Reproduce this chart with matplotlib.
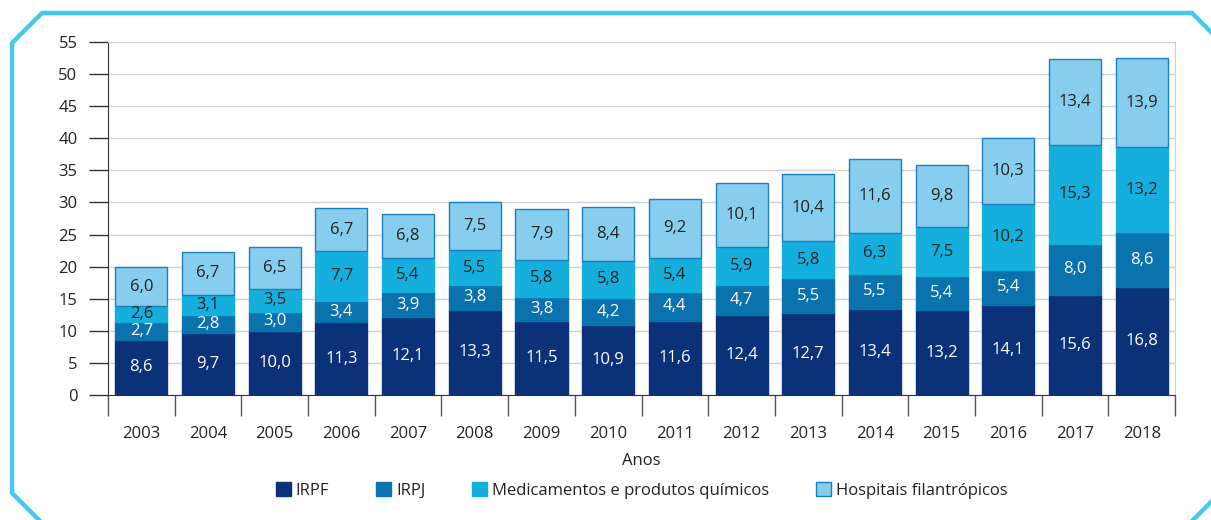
import matplotlib.pyplot as plt
import numpy as np
from matplotlib.lines import Line2D

plt.rcParams['font.family'] = ['Open Sans', 'DejaVu Sans']

anos = ['2003', '2004', '2005', '2006', '2007', '2008', '2009', '2010',
        '2011', '2012', '2013', '2014', '2015', '2016', '2017', '2018']
irpf = [8.6, 9.7, 10.0, 11.3, 12.1, 13.3, 11.5, 10.9, 11.6, 12.4, 12.7, 13.4, 13.2, 14.1, 15.6, 16.8]
irpj = [2.7, 2.8, 3.0, 3.4, 3.9, 3.8, 3.8, 4.2, 4.4, 4.7, 5.5, 5.5, 5.4, 5.4, 8.0, 8.6]
medicamentos = [2.6, 3.1, 3.5, 7.7, 5.4, 5.5, 5.8, 5.8, 5.4, 5.9, 5.8, 6.3, 7.5, 10.2, 15.3, 13.2]
hospitais = [6.0, 6.7, 6.5, 6.7, 6.8, 7.5, 7.9, 8.4, 9.2, 10.1, 10.4, 11.6, 9.8, 10.3, 13.4, 13.9]

series = [
    ('IRPF', irpf, '#0b3279', 'white'),
    ('IRPJ', irpj, '#0a72ad', 'white'),
    ('Medicamentos e produtos químicos', medicamentos, '#14afdc', '#222222'),
    ('Hospitais filantrópicos', hospitais, '#86cdee', '#222222'),
]

fig = plt.figure(figsize=(12.11, 5.20), dpi=100)
ax = fig.add_axes([0.0892, 0.2404, 0.8811, 0.6788])

x = np.arange(len(anos))
bottom = np.zeros(len(anos))
for name, vals, color, tcolor in series:
    vals = np.array(vals)
    edge = '#1b7fc0' if name.startswith('Hosp') else color
    ax.bar(x, vals, 0.78, bottom=bottom, color=color, edgecolor=edge,
           linewidth=1.0, label=name, zorder=3)
    for xi, b, v in zip(x, bottom, vals):
        ax.text(xi, b + v / 2, f'{v:.1f}'.replace('.', ','), ha='center', va='center',
                color=tcolor, fontsize=12, zorder=4)
    bottom += vals

ax.set_xlim(-0.5, len(anos) - 0.5)
ax.set_ylim(0, 55)
ax.set_yticks(np.arange(0, 56, 5))
ax.yaxis.grid(True, color='#d0d0d0', linewidth=1.0, zorder=0)
ax.set_axisbelow(True)

ax.set_xticks(x)
ax.set_xticklabels(anos)
ax.set_xticks(np.arange(-0.5, len(anos), 1), minor=True)
ax.tick_params(axis='x', which='major', length=0, pad=22, labelsize=12, colors='#222222')
ax.tick_params(axis='x', which='minor', length=15, width=1, color='#555555', direction='out')
ax.tick_params(axis='y', length=14, width=1, labelsize=12, colors='#222222', pad=8)
ax.tick_params(axis='y', color='#333333')

for s in ['top', 'right']:
    ax.spines[s].set_color('#d0d0d0')
for s in ['left', 'bottom']:
    ax.spines[s].set_color('#333333')

ax.set_xlabel('Anos', fontsize=12, color='#222222', labelpad=8)

ax.legend(loc='upper center', bbox_to_anchor=(0.5, -0.205), ncol=4, frameon=False,
          fontsize=12, handlelength=0.9, handleheight=0.9, columnspacing=2.8,
          handletextpad=0.3, labelcolor='#222222')

# moldura azul com cantos chanfrados
W, H = 1211.0, 520.0
pts = [(1240, 61), (1192, 13), (42, 13), (12, 43), (12, 493), (40, 521)]
fig.add_artist(Line2D([p[0] / W for p in pts], [1 - p[1] / H for p in pts],
                      color='#45c8f2', linewidth=3.2, transform=fig.transFigure))
pts2 = [(1190, 523), (1230, 483)]
fig.add_artist(Line2D([p[0] / W for p in pts2], [1 - p[1] / H for p in pts2],
                      color='#45c8f2', linewidth=3.2, transform=fig.transFigure))

fig.savefig('out.png', dpi=100)
